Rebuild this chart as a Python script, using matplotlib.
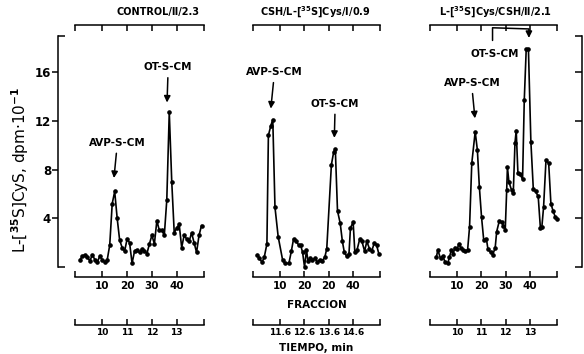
import matplotlib
matplotlib.use("Agg")
import matplotlib.pyplot as plt
from matplotlib.ticker import FixedLocator

plt.rcParams["font.family"] = ["DejaVu Sans"]
plt.rcParams["font.weight"] = "bold"
plt.rcParams["mathtext.fontset"] = "dejavusans"
plt.rcParams["mathtext.default"] = "bf"
plt.rcParams["axes.linewidth"] = 1.1

# fraction number vs L-[35S]Cys (dpm x 10^-1)
control_frac = [1, 2, 3, 4, 5, 6, 7, 8, 9, 10, 11, 12, 13, 14, 15, 16, 17, 18, 19, 20,
                21, 22, 23, 24, 25, 26, 27, 28, 29, 30, 31, 32, 33, 34, 35, 36, 37, 38, 39, 40,
                41, 42, 43, 44, 45, 46, 47, 48, 49, 50]
control_dpm = [0.6, 0.9, 1.0, 0.8, 0.5, 1.0, 0.6, 0.4, 0.9, 0.6, 0.4, 0.6, 1.8, 5.2, 6.2, 4.0, 2.2, 1.6, 1.3, 2.3,
               2.0, 0.3, 1.3, 1.4, 1.2, 1.5, 1.3, 1.1, 1.9, 2.6, 1.9, 3.8, 3.0, 3.0, 2.6, 5.5, 12.7, 7.0, 2.8, 3.2,
               3.5, 1.6, 2.6, 2.3, 2.1, 2.8, 2.0, 1.2, 2.6, 3.4]

csh_frac = [0.7, 1.6, 2.7, 3.6, 4.7, 5.3, 6.3, 7.1, 8.0, 9.3, 11.1, 12.0, 13.7, 14.7, 15.6, 16.7, 17.7,
            18.5, 19.3, 20.1, 20.9, 21.5, 22.3, 23.3, 24.4, 25.3, 26.3, 27.3, 28.4, 29.2, 31.1, 32.0,
            32.7, 33.6, 34.7, 35.6, 36.4, 37.3, 38.3, 38.9, 40.0, 40.7, 41.6, 42.7, 43.6, 44.7, 45.6,
            46.7, 47.6, 48.7, 49.6, 50.5]
csh_dpm = [1.0, 0.7, 0.4, 0.8, 1.9, 10.8, 11.6, 12.1, 4.9, 2.5, 0.6, 0.3, 0.3, 1.3, 2.3, 2.1, 1.8,
           1.8, 1.2, 0.0, 1.4, 0.5, 0.7, 0.6, 0.7, 0.4, 0.6, 0.5, 0.8, 1.5, 8.4, 9.4,
           9.7, 4.6, 3.6, 2.1, 1.2, 0.9, 1.1, 3.2, 3.7, 1.2, 1.4, 2.3, 2.1, 1.3, 2.1,
           1.5, 1.3, 2.0, 1.8, 1.1]

cys_frac = [1.6, 2.2, 3.3, 4.2, 5.2, 6.3, 6.9, 7.8, 8.6, 9.1, 10.2, 10.8, 11.5, 12.6, 13.5, 14.4,
            15.2, 16.1, 17.5, 18.4, 19.2, 20.1, 21.0, 22.1, 22.7, 23.8, 24.7, 25.7, 26.3, 27.4, 28.3,
            29.0, 29.8, 30.4, 30.7, 31.3, 32.4, 33.1, 33.8, 34.3, 35.0, 35.9, 36.9, 37.6, 38.4, 39.3,
            40.3, 41.3, 42.2, 43.3, 44.2, 44.8, 45.5, 46.5, 47.6, 48.5, 49.4, 50.3, 50.9]
cys_dpm = [0.8, 1.4, 0.7, 0.9, 0.4, 0.3, 0.8, 1.4, 1.1, 1.6, 1.5, 1.9, 1.6, 1.4, 1.3, 1.4,
           3.3, 8.5, 11.1, 9.6, 6.6, 4.1, 2.2, 2.3, 1.5, 1.2, 1.0, 1.6, 2.9, 3.8, 3.7,
           3.4, 3.0, 6.3, 8.2, 7.0, 6.3, 6.1, 10.2, 11.2, 7.7, 7.6, 7.2, 13.7, 17.9, 17.9,
           10.3, 6.4, 6.2, 5.8, 3.2, 3.3, 4.9, 8.8, 8.5, 5.2, 4.6, 4.1, 3.9]

titles = ["CONTROL/Ⅱ/2.3", r"CSH/L-[$^{35}$S]Cys/I/0.9", r"L-[$^{35}$S]Cys/CSH/Ⅱ/2.1"]
fraction_ticks = [-1, 10, 20, 30, 40, 51]
fraction_labels = [["", "10", "20", "30", "40", ""],
                   ["", "10", "20", "20", "40", ""],
                   ["", "10", "20", "30", "40", ""]]
time_labels = [["", "10", "11", "12", "13", ""],
               ["", "11.6", "12.6", "13.6", "14.6", ""],
               ["", "10", "11", "12", "13", ""]]
y_ticks = [4, 8, 12, 16]

series = [(control_frac, control_dpm), (csh_frac, csh_dpm), (cys_frac, cys_dpm)]

# label, arrow tip (fraction, dpm), text centre (fraction, dpm)
peak_labels = [
    [("AVP-S-CM", (14.7, 7.3), (15.9, 10.2)), ("OT-S-CM", (36.1, 13.5), (36.5, 16.4))],
    [("AVP-S-CM", (6.3, 13.0), (7.6, 16.0)), ("OT-S-CM", (32.3, 10.6), (32.6, 13.4))],
    [("AVP-S-CM", (17.4, 12.2), (16.2, 15.1))],
]
title_x = [0.643, 0.488, 0.52]

W, H = 584, 354
boxes = [(75, 204), (253, 380), (430, 557)]
y_bot, y_top = 267, 35.5

fig = plt.figure(figsize=(W / 100, H / 100), dpi=100)
axes = []
for i, (x0, x1) in enumerate(boxes):
    ax = fig.add_axes([x0 / W, (H - y_bot) / H, (x1 - x0) / W, (y_bot - y_top) / H])
    axes.append(ax)
    frac, dpm = series[i]
    ax.plot(frac, dpm, color="black", lw=1.2, marker="o", ms=2.3, clip_on=False)
    ax.set_xlim(-1, 51)
    ax.set_ylim(0, 19)
    ax.spines["left"].set_visible(False)
    ax.spines["right"].set_visible(False)
    ax.spines["bottom"].set_position(("outward", 7.2))
    ax.spines["top"].set_position(("outward", 7.5))
    ax.set_xticks(fraction_ticks, labels=fraction_labels[i])
    ax.tick_params(axis="x", direction="in", length=4, width=1.1, top=True,
                   labelsize=7.5, pad=3)
    ax.set_yticks([])

    sec = ax.secondary_xaxis(-0.25)
    sec.set_xticks(fraction_ticks, labels=time_labels[i])
    sec.tick_params(direction="in", length=4, width=1.1, labelsize=6.5, pad=2)
    sec.spines["bottom"].set_linewidth(1.1)

    ax.text(title_x[i], 1.10, titles[i], transform=ax.transAxes, ha="center",
            va="center", fontsize=7)

    for label, tip, txt in peak_labels[i]:
        ax.annotate(label, xy=tip, xytext=txt, ha="center", va="center", fontsize=7.5,
                    arrowprops=dict(arrowstyle="-|>,head_length=0.5,head_width=0.25",
                                    color="black", lw=1.1, relpos=(0.5, 0),
                                    shrinkA=2, shrinkB=0))

# left axis on the first panel
ax = axes[0]
ax.spines["left"].set_visible(True)
ax.spines["left"].set_position(("outward", 12.2))
ax.set_yticks(y_ticks)
ax.yaxis.set_minor_locator(FixedLocator([0, 19]))
ax.tick_params(axis="y", which="major", direction="out", length=4, width=1.1,
               labelsize=8.5, pad=1)
ax.tick_params(axis="y", which="minor", direction="in", length=5, width=1.1)
ax.set_ylabel(r"L-[$^{35}$S]CyS, dpm·10$^{-1}$", fontsize=11)
ax.yaxis.set_label_coords(-0.34, 0.42)

# right axis on the last panel, with the bracket arrow to the OT peak
ax = axes[2]
ax.spines["right"].set_visible(True)
ax.spines["right"].set_position(("outward", 18))
ax.set_yticks([0, 4, 8, 12, 16, 19])
ax.tick_params(axis="y", left=False, right=True, labelleft=False, direction="in",
               length=5, width=1.1)
ax.annotate("OT-S-CM", xy=(39.5, 18.8), xytext=(25.6, 17.5), ha="center", va="center",
            fontsize=7.5, annotation_clip=False,
            arrowprops=dict(arrowstyle="-|>,head_length=0.5,head_width=0.25",
                            color="black", lw=1.1, relpos=(0.45, 1),
                            connectionstyle="arc,angleA=90,angleB=90,armA=21,armB=9,rad=0",
                            shrinkA=4, shrinkB=0))

axes[1].text(0.5, -0.164, "FRACCION", transform=axes[1].transAxes, ha="center",
             va="center", fontsize=7.5)
axes[1].text(0.5, -0.35, "TIEMPO, min", transform=axes[1].transAxes, ha="center",
             va="center", fontsize=7.5)

fig.savefig("out.png", dpi=100)
